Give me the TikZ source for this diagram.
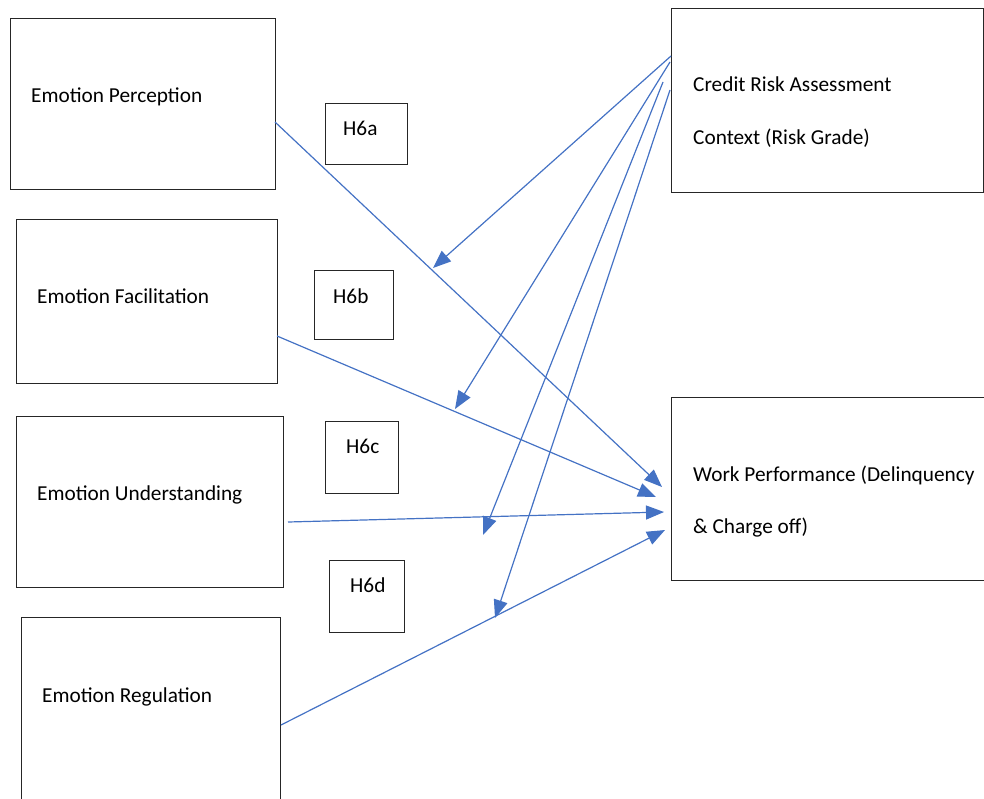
\documentclass[tikz,border=0pt]{standalone}
\usepackage{fontspec}
\setmainfont{Carlito}
\usetikzlibrary{arrows.meta}
\definecolor{linkblue}{HTML}{4472C4}
\begin{document}
\begin{tikzpicture}[x=1pt,y=-1pt,
  box/.style={draw=black!85,line width=1.1pt,anchor=north west,inner sep=0pt},
  lbl/.style={anchor=base west,inner sep=0pt,font=\fontsize{21.3}{25}\selectfont},
  link/.style={draw=linkblue,line width=1.2pt,-{Triangle[length=18pt,width=14pt]}}]
\useasboundingbox (0,0) rectangle (984,798);

% construct boxes
\node[box,minimum width=265pt,minimum height=171pt] (ep) at (10,18) {};
\node[box,minimum width=261pt,minimum height=164pt] (ef) at (16,219) {};
\node[box,minimum width=267pt,minimum height=171pt] (eu) at (16,416) {};
\node[box,minimum width=259pt,minimum height=200pt] (er) at (21,617) {};
% hypothesis labels
\node[box,minimum width=82pt,minimum height=61pt] (h6a) at (325,103) {};
\node[box,minimum width=79pt,minimum height=69pt] (h6b) at (314,270) {};
\node[box,minimum width=73pt,minimum height=72pt] (h6c) at (325,421) {};
\node[box,minimum width=75pt,minimum height=72pt] (h6d) at (329,560) {};
% moderator and outcome
\node[box,minimum width=312pt,minimum height=184pt] (cr) at (671,8) {};
\node[box,minimum width=330pt,minimum height=183pt] (wp) at (671,397) {};

% texts
\node[lbl] (tep) at (31,102) {Emotion Perception};
\node[lbl] (tef) at (37,303) {Emotion Facilitation};
\node[lbl] (teu) at (37,500) {Emotion Understanding};
\node[lbl] (ter) at (42,702) {Emotion Regulation};
\node[lbl] (ta) at (343,135) {H6a};
\node[lbl] (tb) at (333,303) {H6b};
\node[lbl] (tc) at (346,453) {H6c};
\node[lbl] (td) at (350,592) {H6d};
\node[lbl] (tcr1) at (693,91) {Credit Risk Assessment};
\node[lbl] (tcr2) at (693,144) {Context (Risk Grade)};
\node[lbl] (twp1) at (693,481) {Work Performance (Delinquency};
\node[lbl] (twp2) at (693,533) {\& Charge off)};

% connector end points
\coordinate (epo) at (275,122);
\coordinate (efo) at (277,336);
\coordinate (euo) at (288,522);
\coordinate (ero) at (281,725);
\coordinate (wpa) at (662,487);
\coordinate (wpb) at (656,497);
\coordinate (wpc) at (664,512);
\coordinate (wpd) at (665,530);
\coordinate (cra) at (671,56);
\coordinate (crb) at (670,62);
\coordinate (crc) at (663,82);
\coordinate (crd) at (670,90);
\coordinate (ma) at (433,268);
\coordinate (mb) at (455,409);
\coordinate (mc) at (483,535);
\coordinate (md) at (495,618);

% direct effects
\draw[link] (epo) -- (wpa);
\draw[link] (efo) -- (wpb);
\draw[link] (euo) -- (wpc);
\draw[link] (ero) -- (wpd);
% moderating effects
\draw[link] (cra) -- (ma);
\draw[link] (crb) -- (mb);
\draw[link] (crc) -- (mc);
\draw[link] (crd) -- (md);
\end{tikzpicture}
\end{document}
